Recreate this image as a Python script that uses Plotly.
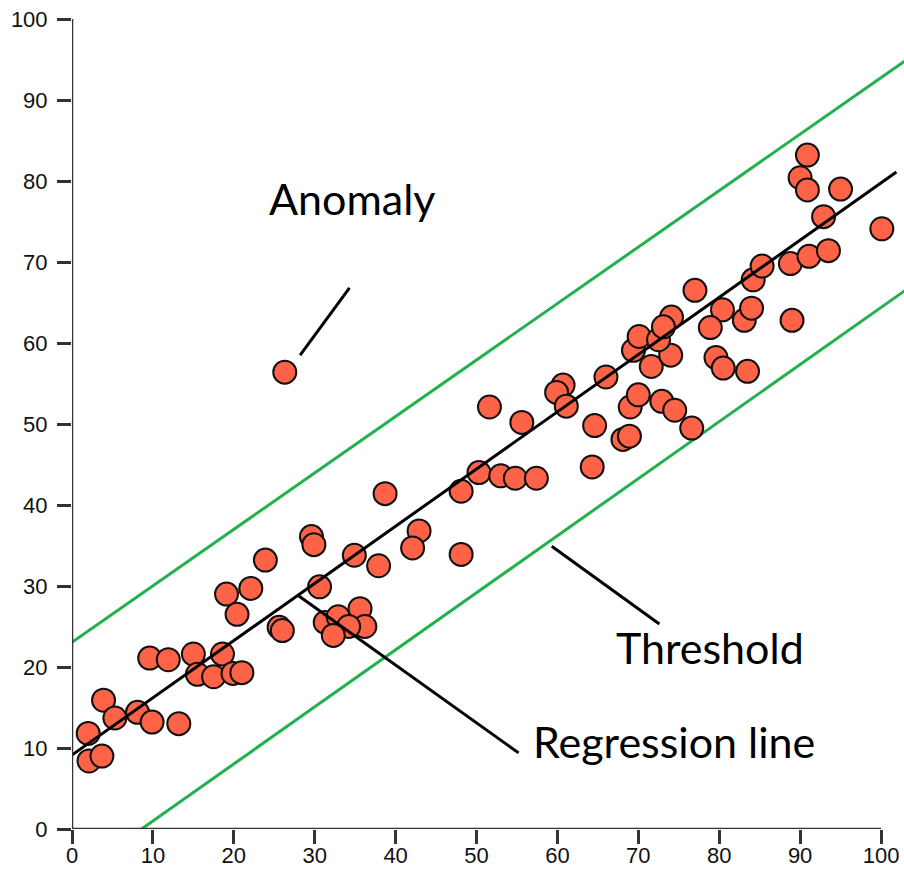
import plotly.graph_objects as go

# Scatter data
x_vals = [2.0, 2.1, 3.7, 3.9, 5.3, 8.1, 9.9, 13.2, 9.6, 11.9, 15.0, 15.5, 17.5, 18.6,
          19.9, 21.0, 19.1, 22.1, 20.4, 23.9, 25.6, 26.0, 29.6, 29.9, 30.6, 38.7,
          34.9, 37.9, 42.9, 42.1, 48.1, 48.1, 50.3, 53.0, 54.8, 57.4, 31.3, 32.9,
          35.6, 36.2, 34.2, 32.3, 51.6, 55.6, 60.7, 59.9, 61.1, 66.0, 64.6, 64.3,
          69.0, 70.0, 68.1, 68.9, 72.9, 74.5, 76.6, 69.4, 71.6, 74.0, 70.1, 72.5,
          77.0, 74.1, 73.1, 80.4, 78.9, 83.1, 84.0, 89.0, 84.2, 85.3, 88.8, 91.1,
          93.5, 79.6, 80.5, 83.5, 90.9, 90.0, 90.9, 95.0, 92.9, 100.1, 26.3]
y_vals = [11.8, 8.4, 9.0, 15.9, 13.7, 14.4, 13.2, 13.0, 21.1, 20.9, 21.6, 19.1, 18.8, 21.6,
          19.2, 19.3, 29.0, 29.7, 26.5, 33.2, 24.9, 24.5, 36.1, 35.1, 29.9, 41.4,
          33.8, 32.5, 36.8, 34.7, 33.9, 41.7, 44.0, 43.6, 43.3, 43.3, 25.5, 26.2,
          27.2, 25.0, 25.0, 23.9, 52.1, 50.2, 54.8, 53.9, 52.2, 55.8, 49.8, 44.7,
          52.1, 53.6, 48.1, 48.5, 52.8, 51.7, 49.5, 59.1, 57.1, 58.5, 60.8, 60.4,
          66.5, 63.2, 62.0, 64.1, 61.9, 62.8, 64.3, 62.8, 67.8, 69.5, 69.8, 70.7,
          71.4, 58.2, 56.9, 56.5, 83.2, 80.4, 78.9, 79.0, 75.6, 74.1, 56.4]

# Fitted lines (endpoints)
reg_x = [-0.4, 101.9]
reg_y = [8.85, 81.1]
upper_x = [0.0, 103.0]
upper_y = [23.05, 94.85]
lower_x = [8.6, 103.0]
lower_y = [0.0, 66.5]

tick_vals = [0, 10, 20, 30, 40, 50, 60, 70, 80, 90, 100]
tick_text = [str(v) for v in tick_vals]

GREEN = "#22B14C"
fig = go.Figure()
fig.add_trace(go.Scatter(x=upper_x, y=upper_y, mode="lines",
                         line=dict(color=GREEN, width=3), hoverinfo="skip"))
fig.add_trace(go.Scatter(x=lower_x, y=lower_y, mode="lines",
                         line=dict(color=GREEN, width=3), hoverinfo="skip"))
fig.add_trace(go.Scatter(x=x_vals, y=y_vals, mode="markers", cliponaxis=False,
                         marker=dict(size=23, color="#FF6347", symbol="circle",
                                     line=dict(color="#111111", width=2))))
fig.add_trace(go.Scatter(x=reg_x, y=reg_y, mode="lines",
                         line=dict(color="black", width=3), hoverinfo="skip"))

AX = "#333333"
# axis lines drawn as shapes so the plot area can extend past 100
fig.add_shape(type="line", xref="x", yref="y", x0=0, y0=0, x1=100, y1=0,
              line=dict(color=AX, width=2.5), layer="above")
fig.add_shape(type="line", xref="x", yref="y", x0=0, y0=0, x1=0, y1=100,
              line=dict(color=AX, width=2.5), layer="above")

# annotation pointer lines
ptr = dict(color="black", width=3)
fig.add_shape(type="line", xref="x", yref="y", x0=34.3, y0=66.8, x1=28.2, y1=58.5, line=ptr)
fig.add_shape(type="line", xref="x", yref="y", x0=59.3, y0=34.9, x1=72.6, y1=25.3, line=ptr)
fig.add_shape(type="line", xref="x", yref="y", x0=28.0, y0=28.8, x1=55.2, y1=9.4, line=ptr)

FONT = "Lato, 'Open Sans', sans-serif"
for txt, ax_, ay_ in [("Anomaly", 34.6, 77.9), ("Threshold", 78.9, 22.4),
                      ("Regression line", 74.4, 10.8)]:
    fig.add_annotation(x=ax_, y=ay_, xref="x", yref="y", text=txt, showarrow=False,
                       font=dict(family=FONT, size=43, color="black"),
                       xanchor="center", yanchor="middle")

TF = dict(family="Arial, 'Liberation Sans', sans-serif", size=22, color="#111")
fig.update_xaxes(range=[0, 102.84], showgrid=False, zeroline=False, showline=False,
                 tickmode="array", tickvals=tick_vals, ticktext=tick_text,
                 ticks="outside", ticklen=14, tickwidth=2.5, tickcolor=AX,
                 ticklabelstandoff=-7, tickfont=TF, automargin=False)
fig.update_yaxes(range=[0, 100], showgrid=False, zeroline=False, showline=False,
                 tickmode="array", tickvals=tick_vals, ticktext=tick_text,
                 ticks="outside", ticklen=14, tickwidth=2.5, tickcolor=AX,
                 ticklabelstandoff=5, tickfont=TF, automargin=False)

fig.update_layout(width=904, height=872, showlegend=False,
                  margin=dict(l=72, r=0, t=19, b=43, pad=0),
                  plot_bgcolor="white", paper_bgcolor="white")

fig.write_html("out.html")
